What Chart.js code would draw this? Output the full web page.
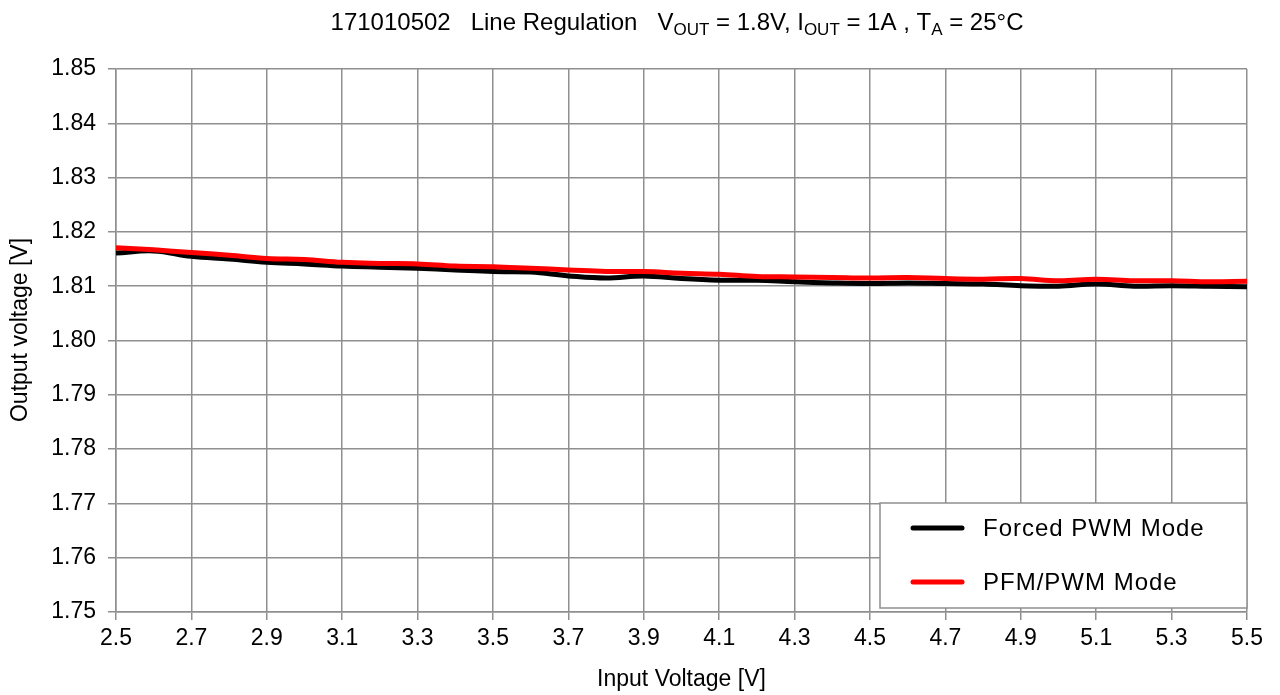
<!DOCTYPE html>
<html>
<head>
<meta charset="utf-8">
<script src="https://cdn.jsdelivr.net/npm/chart.js@4.4.1/dist/chart.umd.min.js"></script>
<style>
  html, body { margin: 0; padding: 0; background: #fff; }
  #wrap { width: 1280px; height: 695px; position: relative; }
</style>
</head>
<body>
<div id="wrap"><canvas id="myChart" width="1280" height="695"></canvas></div>
<script>
// input voltage [V]
const vin = [2.5, 2.6, 2.7, 2.8, 2.9, 3.0, 3.1, 3.2, 3.3, 3.4, 3.5, 3.6, 3.7, 3.8, 3.9, 4.0,
  4.1, 4.2, 4.3, 4.4, 4.5, 4.6, 4.7, 4.8, 4.9, 5.0, 5.1, 5.2, 5.3, 5.4, 5.5];
// output voltage [V]
const forcedPwm = [1.8161, 1.8165, 1.8155, 1.8150, 1.8144, 1.8141, 1.8137, 1.8135, 1.8133, 1.8130,
  1.8127, 1.8126, 1.8119, 1.8115, 1.8119, 1.8114, 1.8111, 1.8111, 1.8108, 1.8106, 1.8105,
  1.8106, 1.8105, 1.8104, 1.8101, 1.8100, 1.8104, 1.8100, 1.8101, 1.8100, 1.8099];
const pfmPwm = [1.8171, 1.8167, 1.8162, 1.8157, 1.8151, 1.8149, 1.8144, 1.8142, 1.8141, 1.8137,
  1.8136, 1.8133, 1.8130, 1.8127, 1.8127, 1.8124, 1.8122, 1.8118, 1.8117, 1.8116, 1.8115,
  1.8116, 1.8114, 1.8113, 1.8114, 1.8110, 1.8113, 1.8110, 1.8110, 1.8108, 1.8109];

const xTicks = [2.5, 2.7, 2.9, 3.1, 3.3, 3.5, 3.7, 3.9, 4.1, 4.3, 4.5, 4.7, 4.9, 5.1, 5.3, 5.5];
const yTicks = [1.75, 1.76, 1.77, 1.78, 1.79, 1.80, 1.81, 1.82, 1.83, 1.84, 1.85];

const font = "Liberation Sans, Arial, sans-serif";
const gridGrey = '#8f8f8f';

function pts(ys) {
  return vin.map((x, i) => ({x: x, y: ys[i]}));
}

// title with subscripts + rotated y title
const titlePlugin = {
  id: 'subTitle',
  afterDraw(chart) {
    const ctx = chart.ctx;
    const parts = [
      ['171010502   Line Regulation   V', 0], ['OUT', 1], [' = 1.8V, I', 0], ['OUT', 1],
      [' = 1A , T', 0], ['A', 1], [' = 25°C', 0]
    ];
    const big = '24px ' + font, small = '17px ' + font;
    ctx.save();
    let w = 0;
    parts.forEach(p => { ctx.font = p[1] ? small : big; w += ctx.measureText(p[0]).width; });
    let x = 677 - w / 2;
    ctx.fillStyle = '#000';
    ctx.textBaseline = 'alphabetic';
    parts.forEach(p => {
      ctx.font = p[1] ? small : big;
      ctx.fillText(p[0], x, p[1] ? 35 : 30);
      x += ctx.measureText(p[0]).width;
    });

    ctx.translate(21, 330);
    ctx.rotate(-Math.PI / 2);
    ctx.font = '23px ' + font;
    ctx.textAlign = 'center';
    ctx.textBaseline = 'middle';
    ctx.fillText('Output voltage [V]', 0, 0);
    ctx.restore();
  }
};

// legend box inside the plot
const legendBox = {
  id: 'legendBox',
  afterDraw(chart) {
    const ctx = chart.ctx;
    ctx.save();
    ctx.strokeStyle = gridGrey;
    ctx.lineWidth = 1.5;
    ctx.fillStyle = '#fff';
    ctx.fillRect(880, 503, 367, 105);
    ctx.strokeRect(880, 503, 367, 105);
    const items = [chart.data.datasets[0], chart.data.datasets[1]];
    items.forEach((ds, i) => {
      const y = 528 + i * 54;
      ctx.strokeStyle = ds.borderColor;
      ctx.lineWidth = 5;
      ctx.lineCap = 'round';
      ctx.beginPath();
      ctx.moveTo(913, y);
      ctx.lineTo(962, y);
      ctx.stroke();
      ctx.fillStyle = '#000';
      ctx.font = '24px ' + font;
      ctx.letterSpacing = '1px';
      ctx.textBaseline = 'middle';
      ctx.fillText(ds.label, 983, y + 1);
    });
    ctx.restore();
  }
};

const config = {
  type: 'line',
  data: {
    datasets: [
      {
        label: 'Forced PWM Mode',
        data: pts(forcedPwm),
        borderColor: '#000000',
        borderWidth: 5,
        pointRadius: 0,
        tension: 0.4,
        order: 1
      },
      {
        label: 'PFM/PWM Mode',
        data: pts(pfmPwm),
        borderColor: '#ff0000',
        borderWidth: 5,
        pointRadius: 0,
        tension: 0.4,
        order: 0
      }
    ]
  },
  options: {
    responsive: false,
    animation: false,
    layout: { padding: { top: 69, right: 33, left: 0, bottom: 0 } },
    plugins: {
      legend: { display: false },
      tooltip: { enabled: false }
    },
    scales: {
      x: {
        type: 'linear',
        min: 2.5,
        max: 5.5,
        afterBuildTicks: s => { s.ticks = xTicks.map(v => ({value: v})); },
        afterFit: s => { s.height = 83; },
        grid: { color: gridGrey, lineWidth: 1.5, tickLength: 8 },
        border: { color: gridGrey, width: 1.5 },
        ticks: {
          color: '#000',
          font: { family: font, size: 23 },
          padding: 5,
          maxRotation: 0,
          autoSkip: false,
          callback: v => Number(v).toFixed(1)
        },
        title: {
          display: true,
          text: 'Input Voltage [V]',
          color: '#000',
          font: { family: font, size: 23 },
          padding: { top: 4, bottom: 2 }
        }
      },
      y: {
        min: 1.75,
        max: 1.85,
        afterBuildTicks: s => { s.ticks = yTicks.map(v => ({value: v})); },
        afterFit: s => { s.width = 116; },
        grid: { color: gridGrey, lineWidth: 1.5, tickLength: 8 },
        border: { color: gridGrey, width: 1.5 },
        ticks: {
          color: '#000',
          font: { family: font, size: 23 },
          padding: 12,
          autoSkip: false,
          callback: v => Number(v).toFixed(2)
        },
        title: { display: false }
      }
    }
  },
  plugins: [titlePlugin, legendBox]
};

const myChart = new Chart(document.getElementById('myChart'), config);
</script>
</body>
</html>
